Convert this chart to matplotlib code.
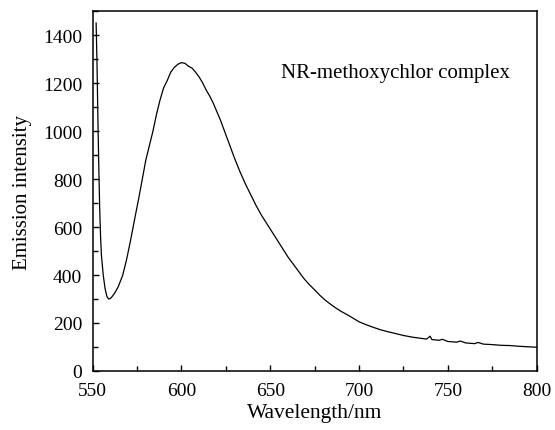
import matplotlib
matplotlib.use('Agg')
import matplotlib.pyplot as plt
from matplotlib.ticker import MultipleLocator

plt.rcParams['font.family'] = ['Liberation Serif', 'DejaVu Serif']

# Emission spectrum
wavelength = [552.0, 552.5, 553.0, 553.5, 554.0, 554.5, 555.0, 556.0, 557.0, 558.0,
              559.0, 560.0, 561.0, 562.5, 564.5, 567.0, 569.0, 571.0, 574.0, 576.0,
              578.0, 580.0, 582.0, 584.0, 586.0, 588.0, 590.0, 592.0, 594.0, 596.0,
              598.0, 600.0, 602.0, 604.0, 606.0, 608.0, 610.0, 612.0, 614.0, 616.0,
              618.0, 620.0, 622.0, 624.0, 626.0, 628.0, 630.0, 633.0, 636.0, 639.0,
              642.0, 645.0, 648.0, 651.0, 654.0, 657.0, 660.0, 663.0, 666.0, 669.0,
              672.0, 675.0, 678.0, 681.0, 684.0, 687.0, 690.0, 693.0, 696.0, 700.0,
              704.0, 708.0, 712.0, 716.0, 720.0, 725.0, 730.0, 735.0, 738.0, 740.0,
              741.0, 745.0, 747.0, 750.0, 755.0, 757.0, 760.0, 765.0, 767.0, 770.0,
              775.0, 780.0, 785.0, 790.0, 795.0, 800.0]
intensity = [1450, 1280, 1050, 850, 680, 560, 480, 400, 345, 312,
             300, 302, 310, 325, 352, 400, 460, 530, 645, 720,
             800, 880, 940, 1000, 1070, 1130, 1180, 1210, 1245, 1265,
             1278, 1285, 1282, 1270, 1262, 1245, 1225, 1200, 1170, 1145,
             1115, 1080, 1045, 1005, 965, 925, 885, 830, 780, 735,
             690, 650, 615, 580, 545, 510, 475, 445, 415, 385,
             360, 338, 315, 295, 278, 262, 248, 236, 223, 205,
             193, 182, 172, 164, 157, 148, 141, 136, 133, 145,
             131, 128, 132, 123, 120, 125, 117, 114, 119, 112,
             110, 107, 106, 103, 101, 99]

fig = plt.figure(figsize=(5.55, 4.31), dpi=100)
ax = fig.add_axes([0.1668, 0.1369, 0.8002, 0.8352])

ax.plot(wavelength, intensity, color='black', lw=0.9)

ax.set_xlim(550, 800)
ax.set_ylim(0, 1500)
ax.xaxis.set_major_locator(MultipleLocator(50))
ax.xaxis.set_minor_locator(MultipleLocator(25))
ax.yaxis.set_major_locator(MultipleLocator(200))
ax.yaxis.set_minor_locator(MultipleLocator(100))
ax.tick_params(which='both', direction='in', top=False, right=False,
               labelsize=14, width=1.0)
ax.tick_params(axis='x', which='both', pad=8)
ax.tick_params(axis='y', which='both', pad=7.5)
ax.tick_params(which='major', length=4)
ax.tick_params(which='minor', length=3.5)
for s in ax.spines.values():
    s.set_linewidth(1.1)

ax.set_xlabel('Wavelength/nm', fontsize=15.5, labelpad=3)
ax.set_ylabel('Emission intensity', fontsize=15, labelpad=8)
ax.text(0.424, 0.83, 'NR-methoxychlor complex', transform=ax.transAxes,
        fontsize=15, va='center', ha='left')

fig.savefig('out.png', dpi=100)
